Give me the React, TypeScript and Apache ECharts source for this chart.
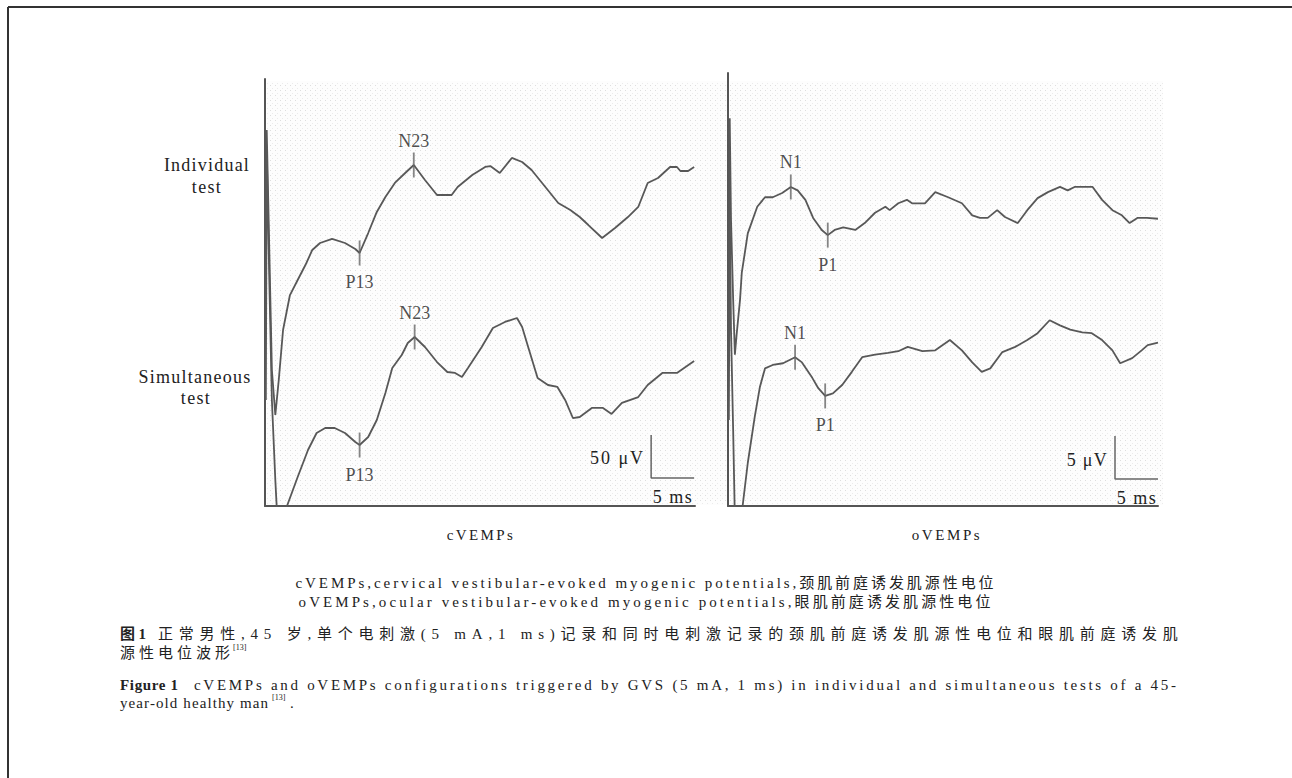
import React, { useEffect, useRef } from "react";
import * as echarts from "echarts";

const W = 1292;
const H = 778;
const SERIF = '"Liberation Serif", "Times New Roman", "Noto Sans CJK SC", serif';

// ---- Data: time (ms) and amplitude (µV, relative to panel baseline) ----
const cIndividualTrace: [number, number][] = [
  [0.1, 239.5], [0.2, 437.2], [0.5, 297.7], [0.8, 158.1], [1.2, 105.8], [1.6, 146.5],
  [2.1, 204.7], [2.9, 245.3], [3.8, 262.8], [4.7, 280.2], [5.5, 297.7], [6.4, 305.8],
  [7.8, 310.5], [9.3, 305.8], [10.5, 298.8], [11.0, 294.2], [12.0, 317.4], [13.0, 341.9],
  [14.0, 359.3], [15.1, 375.6], [16.3, 387.2], [17.3, 396.5], [18.6, 379.1], [20.0, 361.6],
  [21.7, 361.6], [22.4, 370.9], [24.1, 384.9], [25.6, 394.2], [26.2, 395.3], [27.3, 387.2],
  [28.7, 404.7], [29.9, 400.0], [31.0, 390.7], [32.6, 370.9], [34.1, 352.3], [35.5, 344.2],
  [36.6, 336.0], [37.6, 326.7], [39.2, 311.6], [40.7, 323.3], [42.2, 336.0], [43.4, 347.7],
  [44.5, 375.6], [45.7, 381.4], [47.1, 394.2], [47.9, 394.2], [48.3, 389.5], [49.2, 389.5],
  [49.9, 394.2],
];
const cSimultaneousTrace: [number, number][] = [
  [0.1, 123.3], [0.2, 414.0], [0.5, 262.8], [0.8, 123.3], [1.2, 30.2], [1.5, -27.9],
  [2.0, -39.5], [2.4, -4.7], [2.6, 1.2], [3.8, 33.7], [5.0, 65.1], [6.0, 84.9], [7.0, 90.7],
  [8.1, 90.7], [9.3, 84.9], [10.5, 74.4], [11.0, 70.9], [12.0, 80.2], [13.0, 100.0],
  [14.0, 131.4], [14.8, 160.5], [15.9, 175.6], [16.6, 189.5], [17.4, 196.5], [18.6, 184.9],
  [20.0, 167.4], [21.2, 155.8], [22.1, 154.7], [22.9, 150.0], [23.6, 160.5], [25.2, 184.9],
  [26.5, 207.0], [27.9, 214.0], [29.3, 218.6], [29.9, 208.1], [30.6, 184.9], [31.7, 148.8],
  [32.9, 140.7], [34.0, 138.4], [34.9, 123.3], [35.8, 102.3], [36.6, 103.5], [38.0, 114.0],
  [39.3, 114.0], [40.3, 107.0], [41.5, 119.8], [43.4, 126.7], [44.5, 140.7], [46.2, 154.7],
  [47.9, 154.7], [49.9, 168.6],
];
const oIndividualTrace: [number, number][] = [
  [0.1, 28.6], [0.2, 45.1], [0.35, 33.3], [0.6, 24.0], [0.8, 17.6], [1.0, 19.9], [1.4, 24.0],
  [1.6, 27.1], [2.3, 31.7], [3.4, 34.8], [4.3, 35.9], [5.2, 35.9], [6.3, 36.4], [7.3, 37.1],
  [8.1, 36.7], [9.0, 35.6], [9.9, 33.5], [10.9, 32.1], [11.6, 31.5], [12.4, 32.1], [13.4, 32.4],
  [14.8, 32.1], [15.9, 32.9], [17.1, 34.1], [18.3, 34.8], [18.8, 34.4], [19.8, 35.2], [20.8, 35.6],
  [21.4, 35.2], [22.9, 35.2], [24.1, 36.5], [25.6, 35.9], [27.2, 35.2], [28.4, 33.8], [29.3, 33.5],
  [30.2, 33.5], [31.3, 34.4], [32.2, 33.6], [33.7, 32.9], [34.8, 34.4], [36.0, 35.8], [37.2, 36.5],
  [38.6, 37.1], [39.5, 36.7], [40.3, 37.1], [41.5, 37.1], [42.4, 37.1], [43.5, 35.6], [44.7, 34.4],
  [45.8, 33.8], [46.7, 32.9], [47.6, 33.5], [48.7, 33.5], [50.0, 33.4],
];
const oSimultaneousTrace: [number, number][] = [
  [0.1, 10.0], [0.2, 35.6], [0.35, 20.5], [0.6, 8.8], [0.8, -1.6], [1.3, -2.8], [1.6, -0.7],
  [1.7, 0.0], [2.3, 5.0], [3.1, 10.3], [3.7, 13.8], [4.3, 16.0], [5.2, 16.4], [6.4, 16.6],
  [7.8, 17.3], [8.6, 16.7], [9.8, 14.9], [10.5, 13.7], [11.3, 12.8], [12.2, 13.1], [13.3, 14.1],
  [14.4, 15.6], [15.6, 17.3], [17.1, 17.6], [18.6, 17.8], [19.8, 18.0], [20.9, 18.5], [22.6, 18.0],
  [24.1, 18.1], [25.8, 19.3], [27.2, 18.1], [28.4, 16.7], [29.5, 15.6], [30.5, 16.0], [31.9, 17.9],
  [33.4, 18.5], [34.8, 19.3], [36.0, 20.1], [37.4, 21.6], [38.6, 21.0], [39.8, 20.5], [41.2, 20.2],
  [42.3, 20.1], [43.5, 19.3], [44.7, 18.1], [45.6, 16.6], [47.0, 17.2], [48.1, 18.1], [48.8, 18.7],
  [50.0, 19.0],
];

const cPeakNames = ["P13", "N23", "P13", "N23"];
const cPeakTimes = [11.0, 17.3, 11.0, 17.4];
const cPeakValues = [294.2, 396.5, 70.9, 196.5];
const oPeakNames = ["N1", "P1", "N1", "P1"];
const oPeakTimes = [7.3, 11.6, 7.8, 11.3];
const oPeakValues = [37.1, 31.5, 17.3, 12.8];

// scale bars: [time origin, amplitude origin, time length, amplitude length]
const cScaleBar = [44.9, 32.6, 5, 50];
const oScaleBar = [45.0, 3.14, 5, 5];
const cScaleLabels = ["50 μV", "5 ms"];
const oScaleLabels = ["5 μV", "5 ms"];

const rowLabels = [["Individual", "test"], ["Simultaneous", "test"]];
const panelTitles = ["cVEMPs", "oVEMPs"];
const abbrLines = [
  "cVEMPs,cervical vestibular-evoked myogenic potentials,颈肌前庭诱发肌源性电位",
  "oVEMPs,ocular vestibular-evoked myogenic potentials,眼肌前庭诱发肌源性电位",
];
const cnCaption = [
  "图1",
  "正常男性,45 岁,单个电刺激(5 mA,1 ms)记录和同时电刺激记录的颈肌前庭诱发肌源性电位和眼肌前庭诱发肌",
  "源性电位波形",
];
const enCaption = [
  "Figure 1",
  "cVEMPs and oVEMPs configurations triggered by GVS (5 mA, 1 ms) in individual and simultaneous tests of a 45-",
  "year-old healthy man",
];
const refMark = "[13]";

// text: [content, x, y, align, size, bold, targetWidth]
type TSpec = [string, number, number, "left" | "center" | "right", number, boolean, number];
const textSpecs: TSpec[] = [
  [rowLabels[0][0], 207, 165, "center", 18, false, 85],
  [rowLabels[0][1], 207, 187, "center", 18, false, 29],
  [rowLabels[1][0], 195, 377, "center", 18, false, 112],
  [rowLabels[1][1], 196, 398, "center", 18, false, 29],
  [panelTitles[0], 481, 535, "center", 15, false, 66],
  [panelTitles[1], 947, 535, "center", 15, false, 68],
  [abbrLines[0], 646, 583, "center", 15, false, 698],
  [abbrLines[1], 646, 602, "center", 15, false, 692],
  [cnCaption[0], 120, 634, "left", 15, true, 26],
  [cnCaption[1], 158, 634, "left", 15, false, 1020],
  [cnCaption[2], 120, 653, "left", 15, false, 110],
  [enCaption[0], 120, 685, "left", 15, true, 58],
  [enCaption[1], 194, 685, "left", 15, false, 982],
  [enCaption[2], 120, 703, "left", 15, false, 148],
  [cScaleLabels[0], 645, 458, "right", 18, false, 53],
  [cScaleLabels[1], 673, 497, "center", 18, false, 38],
  [oScaleLabels[0], 1108, 460, "right", 18, false, 40],
  [oScaleLabels[1], 1137, 498, "center", 18, false, 39],
];

const spacingMap = new Map<string, number>();

function computeSpacing() {
  const c = document.createElement("canvas");
  const g = c.getContext("2d");
  if (!g) return;
  for (const [t, , , , size, bold, target] of textSpecs) {
    g.font = `${bold ? "bold " : ""}${size}px ${SERIF}`;
    const w = g.measureText(t).width;
    const n = Math.max(1, t.length - 1);
    spacingMap.set(t, Math.max(-0.5, (target - w) / n));
  }
}

function applySpacing(root: HTMLElement) {
  root.querySelectorAll("text").forEach((el) => {
    const key = (el.textContent || "").trim();
    const ls = spacingMap.get(key);
    if (ls != null) el.setAttribute("letter-spacing", ls.toFixed(2) + "px");
  });
}

function makeDots(): string {
  const c = document.createElement("canvas");
  c.width = 5;
  c.height = 5;
  const g = c.getContext("2d");
  if (!g) return "";
  g.fillStyle = "#fdfdfd";
  g.fillRect(0, 0, 5, 5);
  g.fillStyle = "#dedede";
  g.fillRect(0, 0, 1, 1);
  g.fillStyle = "#ebebeb";
  g.fillRect(2, 3, 1, 1);
  return c.toDataURL();
}

function peaks(names: string[], times: number[], values: number[]) {
  return names.map((n, i) => ({
    name: n,
    value: [times[i], values[i]],
    label: {
      position: n.startsWith("N") ? "top" : "bottom",
      distance: n.startsWith("N") ? 3 : 8,
    },
  }));
}

function bar(b: number[]) {
  return [
    [b[0], b[1] + b[3]],
    [b[0], b[1]],
    [b[0] + b[2], b[1]],
  ];
}

function buildOption() {
  const dots = makeDots();
  const axisLine = { show: true, onZero: false, lineStyle: { color: "#555", width: 2 } };
  const xa = (gi: number) => ({
    type: "value", gridIndex: gi, min: 0, max: 50,
    axisLine, axisTick: { show: false }, axisLabel: { show: false }, splitLine: { show: false },
  });
  const ya = (gi: number, max: number) => ({
    type: "value", gridIndex: gi, min: 0, max,
    axisLine, axisTick: { show: false }, axisLabel: { show: false }, splitLine: { show: false },
  });
  const trace = (data: [number, number][], gi: number) => ({
    type: "line", xAxisIndex: gi, yAxisIndex: gi, data, showSymbol: false, symbol: "none",
    clip: true, silent: true, z: 3,
    lineStyle: { color: "#585858", width: 1.8 },
  });
  const marks = (data: any[], gi: number) => ({
    type: "scatter", xAxisIndex: gi, yAxisIndex: gi, data, silent: true, z: 4,
    symbol: "rect", symbolSize: [1.8, 25],
    itemStyle: { color: "#666" },
    label: { show: true, formatter: "{b}", fontFamily: SERIF, fontSize: 18, color: "#222" },
  });
  const scale = (b: number[], gi: number) => ({
    type: "line", xAxisIndex: gi, yAxisIndex: gi, data: bar(b), showSymbol: false, symbol: "none",
    silent: true, z: 3, lineStyle: { color: "#666", width: 1.5 },
  });

  const texts = textSpecs.map(([t, x, y, align, size, bold]) => ({
    type: "text", x, y, z: 10, silent: true,
    style: {
      text: t, fill: "#222", font: `${bold ? "bold " : ""}${size}px ${SERIF}`,
      textAlign: align, textVerticalAlign: "middle",
    },
  }));

  return {
    animation: false,
    backgroundColor: "#fff",
    grid: [
      { left: 265, top: 79, width: 430, height: 427 },
      { left: 728, top: 73, width: 430, height: 433 },
    ],
    xAxis: [xa(0), xa(1)],
    yAxis: [ya(0, 496.5), ya(1, 50.35)],
    series: [
      trace(cIndividualTrace, 0),
      trace(cSimultaneousTrace, 0),
      trace(oIndividualTrace, 1),
      trace(oSimultaneousTrace, 1),
      marks(peaks(cPeakNames, cPeakTimes, cPeakValues), 0),
      marks(peaks(oPeakNames, oPeakTimes, oPeakValues), 1),
      scale(cScaleBar, 0),
      scale(oScaleBar, 1),
    ],
    graphic: [
      {
        type: "rect", z: -5, silent: true,
        shape: { x: 267, y: 81, width: 896, height: 424 },
        style: dots ? { fill: { image: dots, repeat: "repeat" } as any } : { fill: "#f6f6f6" },
      },
      { type: "line", z: 10, silent: true, shape: { x1: 8, y1: 7, x2: 1292, y2: 7 }, style: { stroke: "#333", lineWidth: 2 } },
      { type: "line", z: 10, silent: true, shape: { x1: 8, y1: 7, x2: 8, y2: 778 }, style: { stroke: "#333", lineWidth: 2 } },
      ...texts,
      {
        type: "text", x: 233, y: 647, z: 10, silent: true,
        style: { text: refMark, fill: "#222", font: `8px ${SERIF}`, textAlign: "left", textVerticalAlign: "middle" },
      },
      {
        type: "text", x: 272, y: 697, z: 10, silent: true,
        style: { text: refMark, fill: "#222", font: `8px ${SERIF}`, textAlign: "left", textVerticalAlign: "middle" },
      },
      {
        type: "text", x: 290, y: 703, z: 10, silent: true,
        style: { text: ".", fill: "#222", font: `15px ${SERIF}`, textAlign: "left", textVerticalAlign: "middle" },
      },
    ],
  };
}

export default function App() {
  const ref = useRef<HTMLDivElement>(null);
  useEffect(() => {
    const el = ref.current;
    if (!el) return;
    computeSpacing();
    const chart = echarts.init(el, undefined, { renderer: "svg", width: W, height: H });
    chart.setOption(buildOption() as any);
    const fix = () => applySpacing(el);
    fix();
    chart.on("finished", fix);
    return () => chart.dispose();
  }, []);
  return (
    <div
      ref={ref}
      style={{ position: "fixed", left: 0, top: 0, width: W, height: H, background: "#fff" }}
    />
  );
}
